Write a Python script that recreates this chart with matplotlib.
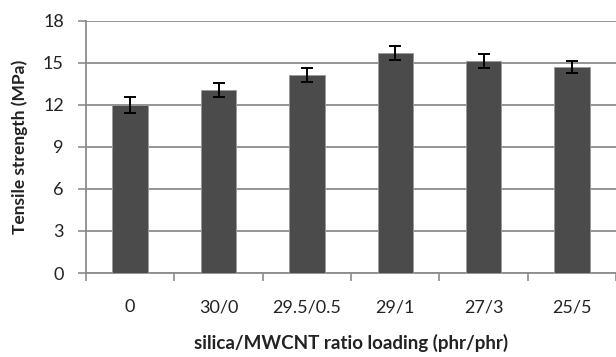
import numpy as np
import matplotlib
matplotlib.use("Agg")
import matplotlib.pyplot as plt

# data
categories = ["0", "30/0", "29.5/0.5", "29/1", "27/3", "25/5"]
strength = [12.0, 13.05, 14.15, 15.7, 15.15, 14.7]
strength_err = [0.55, 0.5, 0.5, 0.5, 0.5, 0.45]
y_ticks = [0, 3, 6, 9, 12, 15, 18]

BAR_COLOR = "#4b4b4b"
GRID_COLOR = "#8c8c8c"
TEXT_COLOR = "#222222"

plt.rcParams["font.family"] = ["Lato", "DejaVu Sans"]

W, H = 616, 357
fig = plt.figure(figsize=(W / 100, H / 100), dpi=100)
ax_left, ax_bottom, ax_top = 86, 273, 20.7
ax = fig.add_axes([ax_left / W, (H - ax_bottom) / H, (W - ax_left) / W, (ax_bottom - ax_top) / H])

x = np.arange(len(categories))
ax.bar(x, strength, width=0.4, color=BAR_COLOR, edgecolor="#9a9a9a", linewidth=0.6, zorder=3)
ax.errorbar(x, strength, yerr=strength_err, fmt="none", ecolor="black",
            elinewidth=1.4, capsize=4, capthick=1.4, zorder=4)

ax.set_xlim(-0.5, len(categories) - 0.5)
ax.set_ylim(0, 18)
ax.set_yticks(y_ticks)
ax.set_yticklabels([str(v) for v in y_ticks], fontsize=13, color=TEXT_COLOR)
ax.yaxis.grid(True, color=GRID_COLOR, linewidth=1.3, zorder=0)

# category boundaries as major ticks, labels at the centres
ax.set_xticks(np.arange(len(categories) + 1) - 0.5)
ax.set_xticklabels([])
ax.set_xticks(x, minor=True)
ax.set_xticklabels(categories, minor=True, fontsize=13, color=TEXT_COLOR)
ax.tick_params(axis="x", which="minor", length=0, pad=19)
ax.tick_params(axis="x", which="major", length=6, color=GRID_COLOR, width=1.2)
ax.tick_params(axis="y", length=6, color=GRID_COLOR, width=1.2, pad=10)

for side in ["top", "right"]:
    ax.spines[side].set_visible(False)
for side in ["left", "bottom"]:
    ax.spines[side].set_color(GRID_COLOR)
    ax.spines[side].set_linewidth(1.3)

ax.set_ylabel("Tensile strength (MPa)", fontsize=12.5, fontweight="bold", color=TEXT_COLOR, va="center")
ax.yaxis.set_label_coords((20 - ax_left) / (W - ax_left), 0.5)
ax.set_xlabel("silica/MWCNT ratio loading (phr/phr)", fontsize=13.5, fontweight="bold",
              color=TEXT_COLOR, va="center")
ax.xaxis.set_label_coords(0.5, -(343 - ax_bottom) / (ax_bottom - ax_top))

fig.savefig("out.png", dpi=100)
